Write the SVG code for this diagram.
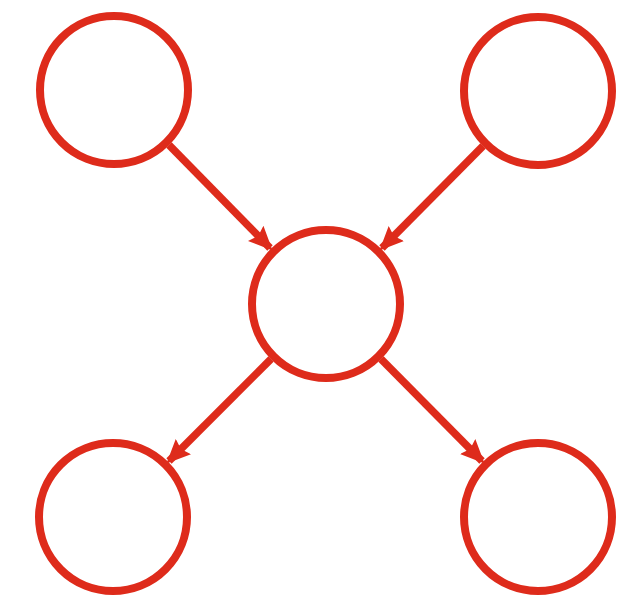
<svg xmlns="http://www.w3.org/2000/svg" width="635" height="599" viewBox="0 0 635 599">
<style>
.node{fill:#ffffff;stroke:#de2b1b;stroke-width:8}
.edge{stroke:#de2b1b;stroke-width:7.5;fill:none;marker-end:url(#ah)}
</style>
<defs>
<marker id="ah" markerUnits="userSpaceOnUse" viewBox="0 0 20 20" refX="17" refY="10" markerWidth="24" markerHeight="24" orient="auto">
<path d="M0,1 L20,10 L0,19 L3,10 Z" fill="#de2b1b"/>
</marker>
</defs>
<rect width="635" height="599" fill="#ffffff"/>
<g id="connectors">
<line class="edge" x1="169" y1="145" x2="270" y2="248"/>
<line class="edge" x1="483" y1="146" x2="382" y2="248"/>
<line class="edge" x1="271" y1="359" x2="169" y2="461"/>
<line class="edge" x1="381" y1="359" x2="482" y2="461"/>
</g>
<g id="node-top-left"><circle class="node" cx="114" cy="90" r="74"/></g>
<g id="node-top-right"><circle class="node" cx="538" cy="91" r="74"/></g>
<g id="node-center"><circle class="node" cx="326" cy="304" r="74"/></g>
<g id="node-bottom-left"><circle class="node" cx="113" cy="517" r="74"/></g>
<g id="node-bottom-right"><circle class="node" cx="538" cy="517" r="74"/></g>
</svg>
